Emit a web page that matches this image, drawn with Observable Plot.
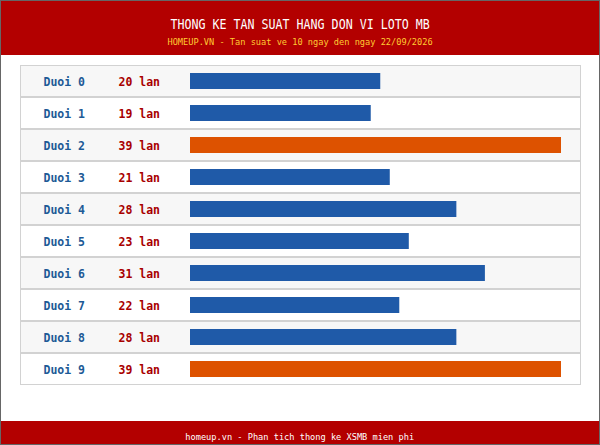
<!DOCTYPE html>
<html>
<head>
<meta charset="utf-8">
<script src="https://cdn.jsdelivr.net/npm/d3@7"></script>
<script src="https://cdn.jsdelivr.net/npm/@observablehq/plot@0.6"></script>
<style>
  html, body { margin: 0; padding: 0; background: #fff; }
  #wrap { width: 600px; height: 445px; box-sizing: border-box; border: 1px solid #666; position: relative; overflow: hidden; font-family: "DejaVu Sans Mono", monospace; background: #fff; }
  #head { height: 54px; background: #b30000; text-align: center; }
  .sx { display: inline-block; white-space: pre; transform-origin: 50% 50%; }
  #title { color: #fff; font-size: 13.3px; padding-top: 16px; line-height: 16px; }
  #title .sx { transform: scaleX(0.875); }
  #sub { color: #ffcc33; font-size: 9.2px; line-height: 12px; padding-top: 3px; }
  #sub .sx, #foot .sx { transform: scaleX(0.94); }
  #chart { height: 366px; }
  #chart svg { display: block; }
  #foot { position: absolute; left: 0; right: 0; bottom: 0; height: 23px; background: #b30000; color: #fff; text-align: center; font-size: 9.2px; line-height: 12px; padding-top: 10px; box-sizing: border-box; }
</style>
</head>
<body>
<div id="wrap">
  <div id="head">
    <div id="title"><span class="sx">THONG KE TAN SUAT HANG DON VI LOTO MB</span></div>
    <div id="sub"><span class="sx">HOMEUP.VN - Tan suat ve 10 ngay den ngay 22/09/2026</span></div>
  </div>
  <div id="chart"></div>
  <div id="foot"><span class="sx">homeup.vn - Phan tich thong ke XSMB mien phi</span></div>
</div>
<script>
const tails = ["Duoi 0", "Duoi 1", "Duoi 2", "Duoi 3", "Duoi 4", "Duoi 5", "Duoi 6", "Duoi 7", "Duoi 8", "Duoi 9"];
const counts = [20, 19, 39, 21, 28, 23, 31, 22, 28, 39];
const unit = "lan";

const data = tails.map((t, i) => ({ tail: t, count: counts[i], idx: i }));
const maxCount = d3.max(counts);

const chart = Plot.plot({
  width: 598,
  height: 366,
  marginLeft: 19,
  marginRight: 18,
  marginTop: 10,
  marginBottom: 36,
  x: { axis: null, domain: [0, maxCount], range: [189, 560] },
  y: { axis: null, domain: tails, padding: 0 },
  style: { fontFamily: "DejaVu Sans Mono, monospace", background: "transparent", overflow: "visible" },
  marks: [
    Plot.cell(data, {
      y: "tail",
      fill: d => d.idx % 2 === 0 ? "#f7f7f7" : "#ffffff",
      stroke: "#d2d2d2",
      strokeWidth: 1,
      inset: 0.5
    }),
    Plot.barX(data, {
      x: "count",
      y: "tail",
      fill: d => d.count === maxCount ? "#dd5200" : "#1f5aa8",
      insetTop: 8,
      insetBottom: 8
    }),
    Plot.text(data, {
      y: "tail",
      text: "tail",
      frameAnchor: "left",
      textAnchor: "start",
      dx: 23,
      dy: 1,
      fill: "#1d5a96",
      fontWeight: "bold",
      fontSize: 11.5
    }),
    Plot.text(data, {
      y: "tail",
      text: d => `${d.count} ${unit}`,
      frameAnchor: "left",
      textAnchor: "start",
      dx: 98,
      dy: 1,
      fill: "#a80000",
      fontWeight: "bold",
      fontSize: 11.5
    })
  ]
});
document.getElementById("chart").appendChild(chart);
</script>
</body>
</html>
